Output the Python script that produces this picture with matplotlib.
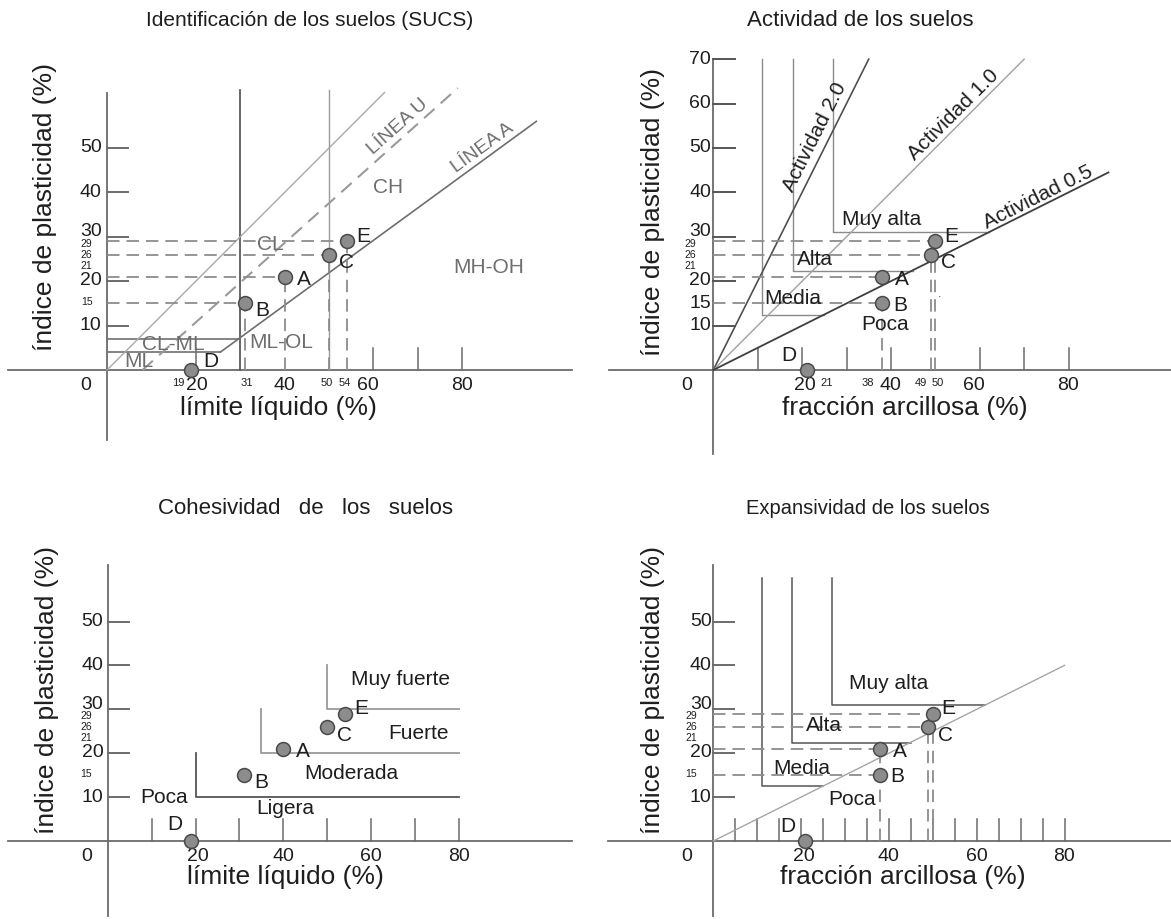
import numpy as np
import matplotlib.pyplot as plt

plt.rcParams['font.family'] = ['Liberation Sans', 'DejaVu Sans']
plt.rcParams['lines.scale_dashes'] = False

#%% DATA
# puntos de ensayo A..E
point_names = ['A', 'B', 'C', 'D', 'E']
ip_pts = [21, 15, 26, 0, 29]          # indice de plasticidad
ll_pts = [40, 31, 50, 19, 54]         # limite liquido
frac_pts = [38, 38, 49, 21, 50]       # fraccion arcillosa

# SUCS (carta de plasticidad)
linea_a_x = [25.5, 96.7]
linea_a_y = [4, 56]
linea_u_x = [8, 79]
linea_u_y = [0, 63.5]
ip_eq_ll_x = [0, 62.5]
ip_eq_ll_y = [0, 62.5]
sucs_vert_x = [30, 50]
sucs_vert_top = 63
clml_y = [4, 7]
clml_x_end = [25.5, 30]
sucs_zones = ['CH', 'CL', 'MH-OH', 'ML-OL', 'CL-ML', 'ML']

# actividad
act_names = ['Actividad 2.0', 'Actividad 1.0', 'Actividad 0.5']
act_end_x = [35, 70, 89]
act_end_y = [70, 70, 44.5]
act_zones = ['Muy alta', 'Alta', 'Media', 'Poca']

# expansividad (esquinas de las zonas)
exp_corner_x = [11, 18, 27]
exp_corner_y = [12.5, 22.4, 31]
exp_end_x = [25, 45, 62]
exp_line_x = [0, 80]
exp_line_y = [0, 40]

# cohesividad
coh_corner_x = [20, 35, 50]
coh_corner_y = [10, 20, 30]
coh_top_y = [20, 30, 40]
coh_end_x = 80
coh_zones = ['Muy fuerte', 'Fuerte', 'Moderada', 'Poca', 'Ligera']

# etiquetas de ejes
p1_ybig = [10, 20, 30, 40, 50]
p1_ysmall = [29, 26, 21, 15]
p1_xbig = [20, 40, 60, 80]
p1_xsmall = [19, 31, 50, 54]
p2_ybig = [10, 15, 20, 30, 40, 50, 60, 70]
p2_ysmall = [29, 26, 21]
p2_xbig = [20, 40, 60, 80]
p2_xsmall = [21, 38, 49, 50]
p34_ybig = [10, 20, 30, 40, 50]
p34_ysmall = [29, 26, 21, 15]
p34_xbig = [20, 40, 60, 80]

#%% LAYOUT
W, H = 1171, 919
fig = plt.figure(figsize=(W / 100, H / 100), dpi=100)
fig.patch.set_facecolor('white')

AX_COL = '#6b6b6b'
DASH_COL = '#8c8c8c'
TXT = '#1e1e1e'
GRAY_TXT = '#6e6e6e'
DASH = (9, 5)


def panel(box, origin, scale):
    x0, y0, x1, y1 = box
    ox, oy = origin
    ax = fig.add_axes([x0 / W, 1 - y1 / H, (x1 - x0) / W, (y1 - y0) / H])
    ax.set_xlim((x0 - ox) / scale, (x1 - ox) / scale)
    ax.set_ylim((oy - y1) / scale, (oy - y0) / scale)
    ax.axis('off')
    return ax


def axes_lines(ax, xr, yr, yticks, xticks, tick_col=AX_COL):
    ax.plot(xr, [0, 0], color=AX_COL, lw=1.3, zorder=2)
    ax.plot([0, 0], yr, color=AX_COL, lw=1.3, zorder=2)
    for v in yticks:
        ax.plot([0, 4.8], [v, v], color=tick_col, lw=1.4, zorder=2)
    for v in xticks:
        ax.plot([v, v], [0, 5], color=AX_COL, lw=1.1, zorder=2)


def tick_labels(ax, ybig, ysmall, xbig, xsmall, yright, yleft, zero_x, xnudge=None):
    xnudge = xnudge or {}
    ynudge_small = {29: -0.6, 26: -0.1, 21: 2.4, 15: 0.3}
    ynudge_big = {30: 1.1, 20: 0.2}
    for v in ybig:
        ax.text(yright, v + ynudge_big.get(v, 0), str(v), ha='right', va='center',
                fontsize=14, color=TXT)
    for v in ysmall:
        ax.text(yleft, v + ynudge_small.get(v, 0), str(v), ha='left', va='center',
                fontsize=7.5, color=TXT)
    ax.text(zero_x, -1.6, '0', ha='center', va='top', fontsize=14, color=TXT)
    for v in xbig:
        ax.text(v + xnudge.get(('b', v), 0), -1.6, str(v), ha='center', va='top', fontsize=14, color=TXT)
    for v in xsmall:
        ax.text(v + xnudge.get(('s', v), 0), -1.7, str(v), ha='center', va='top', fontsize=8, color=TXT)


def points(ax, xs, ys, offsets):
    ax.plot(xs, ys, 'o', ms=10, mfc='#8c8c8c', mec='#4a4a4a', mew=1.1, zorder=6, ls='none')
    for name, x, y, (dx, dy) in zip(point_names, xs, ys, offsets):
        ax.text(x + dx, y + dy, name, ha='center', va='center', fontsize=15, color=TXT, zorder=7)


def dashed(ax, xs, ys, drop_from=None):
    for name, x, y in zip(point_names, xs, ys):
        if name == 'D':
            continue
        ax.plot([0, x], [y, y], color=DASH_COL, lw=1.3, dashes=DASH, zorder=3)
    for name, x, y in zip(point_names, xs, ys):
        if name == 'D' or (drop_from and name not in drop_from):
            continue
        ax.plot([x, x], [0, y], color=DASH_COL, lw=1.3, dashes=DASH, zorder=3)


def fig_text(px, py, s, **kw):
    fig.text(px / W, 1 - py / H, s, **kw)


#%% PANEL 1: SUCS
ax1 = panel((0, 40, 585, 450), (107, 370), 4.44)
axes_lines(ax1, [-22.3, 104.7], [-15.8, 62.5], p1_ybig, [20, 60, 70, 80])
ax1.plot([sucs_vert_x[0]] * 2, [0, sucs_vert_top], color='#5a5a5a', lw=1.3)
ax1.plot([sucs_vert_x[1]] * 2, [0, sucs_vert_top], color='#9a9a9a', lw=1.0)
for y, xe in zip(clml_y, clml_x_end):
    ax1.plot([0, xe], [y, y], color='#707070', lw=1.2)
ax1.plot(ip_eq_ll_x, ip_eq_ll_y, color='#a8a8a8', lw=1.0)
ax1.plot(linea_a_x, linea_a_y, color='#6e6e6e', lw=1.2)
ax1.plot(linea_u_x, linea_u_y, color='#9a9a9a', lw=1.5, dashes=(10, 6))
dashed(ax1, ll_pts, ip_pts)
points(ax1, ll_pts, ip_pts, [(4.4, -0.6), (3.9, -1.6), (3.9, -1.9), (4.3, 1.9), (3.8, 1.1)])
tick_labels(ax1, p1_ybig, p1_ysmall, p1_xbig, p1_xsmall, -1.2, -5.9, -4.7,
            xnudge={('s', 19): -3, ('s', 31): 0.5, ('s', 50): -0.5, ('s', 54): -0.4,
                    ('b', 20): 0.3, ('b', 60): -1.2})
zone_pos = [(63.3, 41.1), (36.7, 28.2), (86, 23), (39.2, 6.2), (15, 5.8), (7.1, 1.9)]
for s, (x, y) in zip(sucs_zones, zone_pos):
    ax1.text(x, y, s, ha='center', va='center', fontsize=15, color=GRAY_TXT)
ang_u = np.degrees(np.arctan2(np.diff(linea_u_y)[0], np.diff(linea_u_x)[0]))
ang_a = np.degrees(np.arctan2(np.diff(linea_a_y)[0], np.diff(linea_a_x)[0]))
ax1.text(65.6, 54.8, 'LÍNEA U', rotation=ang_u, rotation_mode='anchor', ha='center', va='center',
         fontsize=14, color=GRAY_TXT)
ax1.text(84.7, 50.0, 'LÍNEA A', rotation=ang_a, rotation_mode='anchor', ha='center', va='center',
         fontsize=14, color=GRAY_TXT)
ax1.text(38.5, -8.6, 'límite líquido (%)', ha='center', va='center', fontsize=19, color=TXT)
fig_text(310, 20, 'Identificación de los suelos (SUCS)', ha='center', va='center', fontsize=15, color=TXT)
fig_text(45, 207, 'índice de plasticidad (%)', rotation=90, ha='center', va='center', fontsize=19, color=TXT)

#%% PANEL 2: ACTIVIDAD
ax2 = panel((590, 40, 1171, 460), (713.3, 370), 4.44)
axes_lines(ax2, [-23.5, 103], [-19, 70], [10, 20, 30, 40, 50, 60, 70], [10, 20, 30, 40, 60, 70, 80],
           tick_col='#555555')
for cx, cy, ex in zip(exp_corner_x, exp_corner_y, exp_end_x):
    ax2.plot([cx, cx, ex], [70, cy, cy], color='#8a8a8a', lw=1.0)
act_style = [('#505050', 1.2), ('#a0a0a0', 1.0), ('#3e3e3e', 1.3)]
for xe, ye, (c, lw) in zip(act_end_x, act_end_y, act_style):
    ax2.plot([0, xe], [0, ye], color=c, lw=lw)
dashed(ax2, frac_pts, ip_pts, drop_from=['B', 'C', 'E'])
points(ax2, frac_pts, ip_pts, [(4.4, -0.7), (4.0, -0.5), (4.0, -1.9), (-4.1, 3.3), (3.6, 1.1)])
tick_labels(ax2, p2_ybig, p2_ysmall, p2_xbig, p2_xsmall, -0.5, -6.4, -6.0,
            xnudge={('s', 21): 4.5, ('s', 38): -3.1, ('s', 49): -2.2, ('s', 50): 0.6,
                    ('b', 20): 0.6, ('b', 60): -1.2})
act_lab = [(22.9, 52.5), (54.1, 57.4), (73.2, 39.0)]
for s, (x, y), xe, ye in zip(act_names, act_lab, act_end_x, act_end_y):
    ax2.text(x, y, s, rotation=np.degrees(np.arctan2(ye, xe)), rotation_mode='anchor',
             ha='center', va='center', fontsize=15, color=TXT)
act_zone_pos = [(37.9, 34), (22.9, 24.9), (18, 16.1), (38.7, 10.3)]
for s, (x, y) in zip(act_zones, act_zone_pos):
    ax2.text(x, y, s, ha='center', va='center', fontsize=15, color=TXT)
ax2.text(50.9, 17.2, '.', ha='center', va='center', fontsize=9, color='#555555')
ax2.text(43.2, -8.6, 'fracción arcillosa (%)', ha='center', va='center', fontsize=19, color=TXT)
fig_text(860, 20, 'Actividad de los suelos', ha='center', va='center', fontsize=16, color=TXT)
fig_text(653, 212, 'índice de plasticidad (%)', rotation=90, ha='center', va='center', fontsize=19, color=TXT)

#%% PANEL 3: COHESIVIDAD
ax3 = panel((0, 520, 585, 919), (107.7, 841), 4.39)
axes_lines(ax3, [-22.7, 105.8], [-17, 62.9], p34_ybig, [10, 20, 30, 40, 50, 60, 70, 80])
coh_cols = ['#555555', '#9a9a9a', '#9a9a9a']
for cx, cy, ty, c in zip(coh_corner_x, coh_corner_y, coh_top_y, coh_cols):
    ax3.plot([cx, cx, coh_end_x], [ty, cy, cy], color=c, lw=1.3)
points(ax3, ll_pts, ip_pts, [(4.4, -0.6), (3.9, -1.6), (3.9, -1.9), (-3.6, 3.8), (3.8, 1.1)])
tick_labels(ax3, p34_ybig, p34_ysmall, p34_xbig, [], -1.0, -6.2, -4.7, xnudge={('b', 20): 0.6})
coh_pos = [(66.6, 36.7), (70.8, 24.5), (55.6, 15.4), (12.8, 10), (40.4, 7.5)]
for s, (x, y) in zip(coh_zones, coh_pos):
    ax3.text(x, y, s, ha='center', va='center', fontsize=15, color=TXT)
ax3.text(40.4, -8.2, 'límite líquido (%)', ha='center', va='center', fontsize=19, color=TXT)
fig_text(305, 508, 'Cohesividad   de   los   suelos', ha='center', va='center', fontsize=16, color=TXT)
fig_text(47, 690, 'índice de plasticidad (%)', rotation=90, ha='center', va='center', fontsize=19, color=TXT)

#%% PANEL 4: EXPANSIVIDAD
ax4 = panel((590, 520, 1171, 919), (713.3, 841), 4.39)
axes_lines(ax4, [-24, 104], [-17, 62.9], p34_ybig, np.arange(5, 81, 5))
for cx, cy, ex in zip(exp_corner_x, exp_corner_y, exp_end_x):
    ax4.plot([cx, cx, ex], [60, cy, cy], color='#555555', lw=1.1)
ax4.plot(exp_line_x, exp_line_y, color='#a5a5a5', lw=1.0)
dashed(ax4, frac_pts, ip_pts, drop_from=['A', 'C', 'E'])
points(ax4, frac_pts, ip_pts, [(4.5, -0.5), (4.0, -0.4), (4.0, -1.9), (-4.0, 3.3), (3.6, 1.1)])
tick_labels(ax4, p34_ybig, p34_ysmall, p34_xbig, [], -0.4, -6.4, -6.0, xnudge={('b', 20): 0.6})
exp_zone_pos = [(39.9, 35.8), (25.1, 26.4), (20.1, 16.6), (31.5, 9.5)]
for s, (x, y) in zip(act_zones, exp_zone_pos):
    ax4.text(x, y, s, ha='center', va='center', fontsize=15, color=TXT)
ax4.text(43.2, -8.2, 'fracción arcillosa (%)', ha='center', va='center', fontsize=19, color=TXT)
fig_text(868, 508, 'Expansividad de los suelos', ha='center', va='center', fontsize=14.5, color=TXT)
fig_text(653, 690, 'índice de plasticidad (%)', rotation=90, ha='center', va='center', fontsize=19, color=TXT)

fig.savefig('out.png', dpi=100, facecolor='white')
